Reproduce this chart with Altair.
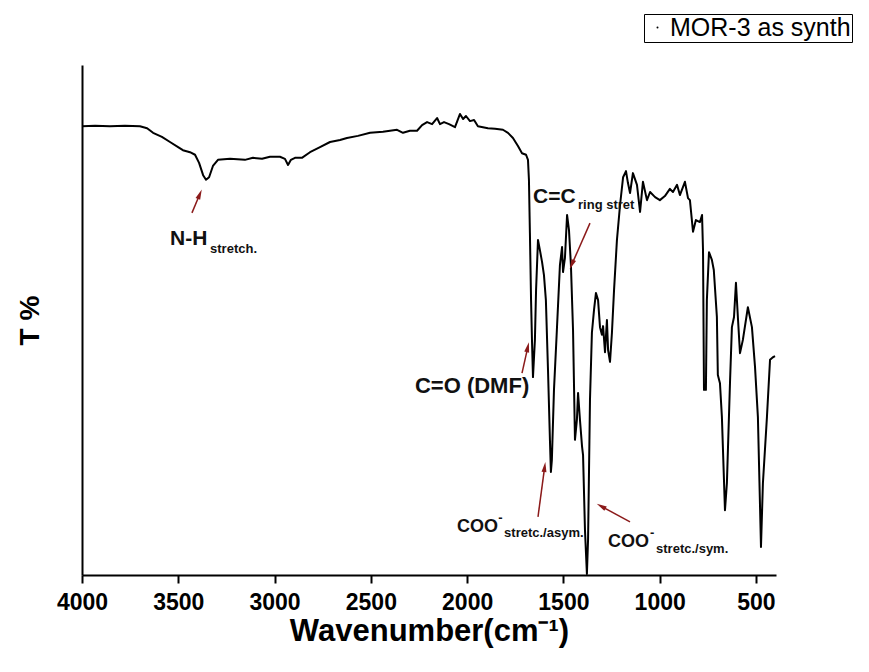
import math
import altair as alt
import pandas as pd

# ---- spectrum (wavenumber cm-1, transmittance %) ----
wavenumber = [4000, 3932, 3855, 3777, 3699, 3662, 3631, 3585, 3543, 3501, 3476, 3439, 3413, 3392,
              3371, 3356, 3340, 3320, 3294, 3231, 3154, 3112, 3065, 3024, 2972, 2946, 2930, 2915,
              2894, 2858, 2816, 2764, 2712, 2660, 2624, 2567, 2504, 2437, 2364, 2333, 2297, 2260,
              2234, 2208, 2182, 2156, 2141, 2120, 2094, 2063, 2037, 2021, 2006, 1985, 1964, 1944,
              1918, 1892, 1855, 1814, 1788, 1762, 1736, 1715, 1694, 1684, 1679, 1674, 1668, 1663,
              1658, 1648, 1642, 1632, 1622, 1611, 1601, 1591, 1580, 1570, 1565, 1560, 1549, 1534,
              1518, 1507, 1502, 1492, 1481, 1471, 1461, 1450, 1440, 1430, 1424, 1414, 1403, 1398,
              1388, 1378, 1372, 1362, 1352, 1341, 1331, 1320, 1310, 1300, 1294, 1284, 1274, 1268,
              1258, 1248, 1237, 1222, 1206, 1190, 1175, 1165, 1154, 1139, 1118, 1102, 1087, 1066,
              1050, 1024, 999, 973, 947, 931, 910, 895, 869, 853, 843, 827, 812, 791, 780, 775,
              770, 760, 755, 744, 729, 719, 703, 698, 687, 677, 661, 651, 635, 625, 614, 604,
              594, 583, 568, 542, 521, 505, 490, 474, 464, 443, 427, 412, 401]
transmittance = [88.0, 88.1, 88.0, 88.1, 88.0, 87.6, 86.7, 85.9, 84.9, 83.9, 83.3, 82.9, 82.4, 80.8,
                 78.4, 77.5, 78.0, 80.2, 81.4, 81.6, 81.4, 81.8, 81.6, 82.0, 82.0, 81.6, 80.4, 81.4,
                 81.8, 81.8, 82.9, 83.9, 84.9, 85.3, 85.7, 86.1, 86.7, 86.9, 87.3, 86.7, 87.1, 87.1,
                 88.2, 88.8, 88.4, 89.6, 88.4, 88.8, 88.4, 87.8, 90.4, 89.4, 90.0, 89.0, 89.2, 88.0,
                 87.8, 87.6, 87.5, 87.3, 86.7, 85.7, 84.1, 82.7, 82.4, 81.4, 77.5, 67.1, 53.9, 45.7,
                 38.8, 46.1, 55.9, 65.7, 63.7, 61.4, 58.8, 53.9, 40.2, 26.5, 20.2, 22.5, 36.3, 48.0,
                 60.8, 64.3, 59.4, 62.2, 70.6, 67.6, 60.8, 48.0, 26.5, 30.4, 35.7, 30.4, 25.1, 23.5,
                 8.8, 0.2, 6.9, 34.3, 47.5, 52.0, 55.3, 53.9, 48.6, 47.1, 48.8, 43.7, 50.0, 44.1,
                 41.8, 47.5, 55.9, 65.7, 72.5, 78.0, 79.2, 76.9, 74.9, 78.8, 76.5, 71.2, 77.1, 73.5,
                 75.1, 74.1, 73.5, 74.3, 75.7, 75.1, 76.5, 74.5, 77.1, 73.9, 73.5, 67.3, 69.6, 69.2, 70.6, 63.7,
                 36.3, 36.3, 53.9, 63.3, 61.8, 59.8, 50.6, 39.2, 37.6, 31.0, 12.7, 18.0, 37.6, 48.6, 50.6, 57.3,
                 50.6, 43.5, 46.1, 52.5, 48.6, 40.8, 31.0, 5.5, 18.0, 31.0, 42.2, 42.7, 42.9]
series_name = "MOR-3 as synth"
x_ticks = [4000, 3500, 3000, 2500, 2000, 1500, 1000, 500]

# ---- annotations ----
ann_main = ["N-H", "C=O (DMF)", "C=C", "COO", "COO"]
ann_main_wn = [3543, 2271, 1658, 2053, 1268]
ann_main_t = [64.7, 35.7, 72.9, 8.4, 5.5]
ann_main_size = [21, 22, 21, 18, 18]

ann_sub = ["stretch.", "ring stret", "stretc./asym.", "stretc./sym."]
ann_sub_wn = [3335, 1424, 1808, 1019]
ann_sub_t = [63.1, 71.8, 7.5, 4.3]

ann_sup = ["-", "-"]
ann_sup_wn = [1838, 1050]
ann_sup_t = [10.4, 7.5]

arrow_tail_wn = [3429, 1715, 1362, 1632, 1154]
arrow_tail_t = [71.0, 39.6, 69.0, 11.4, 10.4]
arrow_head_wn = [3390, 1686, 1455, 1598, 1300]
arrow_head_t = [74.5, 44.5, 61.0, 21.0, 13.4]

W, H = 694, 510
X_MIN, X_MAX = 396, 4000
kx = W / (X_MAX - X_MIN)
ky = H / 100.0

spec = pd.DataFrame({"wn": wavenumber, "T": transmittance,
                     "i": range(len(wavenumber)), "series": series_name})

angles = []
for tw, tt, hw, ht in zip(arrow_tail_wn, arrow_tail_t, arrow_head_wn, arrow_head_t):
    dx = -(hw - tw) * kx
    dy = -(ht - tt) * ky
    angles.append(math.degrees(math.atan2(dx, -dy)) % 360)
arrows = pd.DataFrame({"wn": arrow_tail_wn, "T": arrow_tail_t,
                       "wn2": arrow_head_wn, "T2": arrow_head_t, "angle": angles})

main_df = pd.DataFrame({"wn": ann_main_wn, "T": ann_main_t, "label": ann_main, "size": ann_main_size})
sub_df = pd.DataFrame({"wn": ann_sub_wn, "T": ann_sub_t, "label": ann_sub})
sup_df = pd.DataFrame({"wn": ann_sup_wn, "T": ann_sup_t, "label": ann_sup})

FONT = "Liberation Sans"
xscale = alt.Scale(domain=[X_MIN, X_MAX], reverse=True, nice=False, zero=False)
yscale = alt.Scale(domain=[0, 100], nice=False, zero=False)

line = alt.Chart(spec).mark_line(strokeWidth=2, strokeJoin="round").encode(
    x=alt.X("wn:Q", scale=xscale,
            axis=alt.Axis(values=x_ticks, title="Wavenumber(cm⁻¹)", format="d",
                          grid=False, domainColor="black", domainWidth=2,
                          tickColor="black", tickWidth=2, tickSize=8,
                          labelFont=FONT, labelFontWeight="bold", labelFontSize=23,
                          labelColor="black", labelPadding=8, labelFlush=False,
                          titleFont=FONT, titleFontWeight="bold", titleFontSize=31,
                          titleColor="black", titlePadding=2)),
    y=alt.Y("T:Q", scale=yscale,
            axis=alt.Axis(title="T %", labels=False, ticks=False, grid=False,
                          domainColor="black", domainWidth=2,
                          titleFont=FONT, titleFontWeight="bold", titleFontSize=28,
                          titleColor="black", titlePadding=38)),
    order="i:Q",
    color=alt.Color("series:N", scale=alt.Scale(range=["black"]),
                    legend=alt.Legend(orient="none", legendX=562, legendY=-51, title=None,
                                      strokeColor="black", fillColor="white", padding=1,
                                      labelFont=FONT, labelFontSize=25, labelColor="black",
                                      labelLimit=0, symbolOffset=0,
                                      symbolType="circle", symbolSize=4, symbolStrokeWidth=0,
                                      symbolFillColor="black",
                                      labelOffset=0, cornerRadius=0)),
)

rules = alt.Chart(arrows).mark_rule(color="#8b1a1a", strokeWidth=1.5).encode(
    x="wn:Q", x2="wn2:Q", y="T:Q", y2="T2:Q")

heads = alt.Chart(arrows).mark_point(
    shape="M0,-1L0.42,0.7L-0.42,0.7Z", filled=True, color="#8b1a1a", opacity=1, size=140
).encode(x=alt.X("wn2:Q"), y=alt.Y("T2:Q"), angle=alt.Angle("angle:Q", scale=None))

main_txt = alt.Chart(main_df).mark_text(
    font=FONT, fontWeight="bold", align="left", baseline="alphabetic", color="#111111"
).encode(x="wn:Q", y="T:Q", text="label:N", size=alt.Size("size:Q", scale=None))

sub_txt = alt.Chart(sub_df).mark_text(
    font=FONT, fontWeight="bold", align="left", baseline="alphabetic", color="#111111", fontSize=13
).encode(x="wn:Q", y="T:Q", text="label:N")

sup_txt = alt.Chart(sup_df).mark_text(
    font=FONT, fontWeight="bold", align="left", baseline="alphabetic", color="#111111", fontSize=13
).encode(x="wn:Q", y="T:Q", text="label:N")

chart = alt.layer(line, rules, heads, main_txt, sub_txt, sup_txt).properties(
    width=W, height=H,
    autosize=alt.AutoSizeParams(type="none"),
    padding={"left": 74, "top": 57, "right": 80, "bottom": 80},
    background="white",
).configure_view(stroke=None)

chart.save("out.html", embed_options={"renderer": "svg", "actions": False})
